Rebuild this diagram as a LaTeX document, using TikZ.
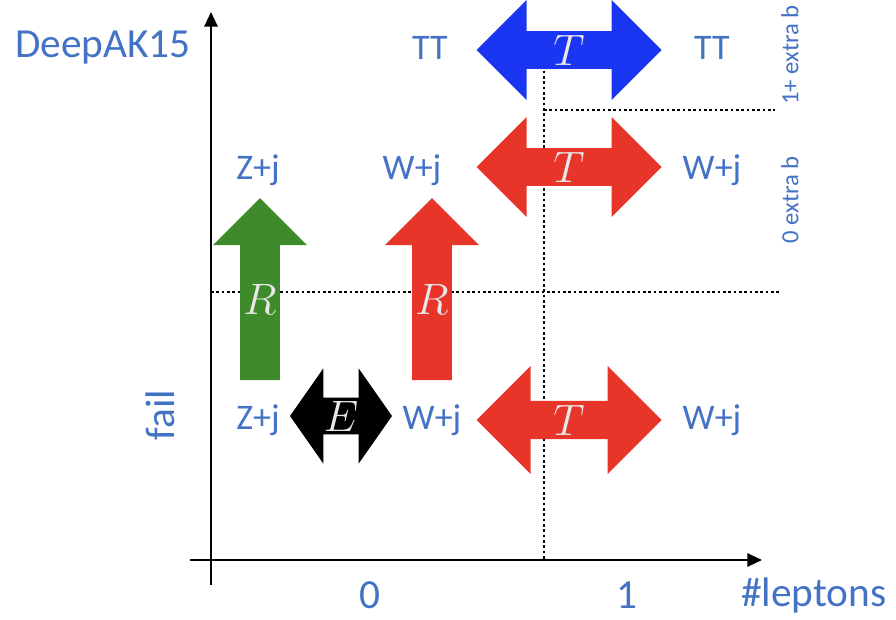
\documentclass[tikz,border=0pt]{standalone}
\usepackage{fix-cm}
\usepackage{fontspec}
\setmainfont{Carlito}
\usetikzlibrary{positioning, shapes.arrows, arrows.meta}
\definecolor{lblBlue}{HTML}{4472C4}
\definecolor{arrBlue}{HTML}{1B36F2}
\definecolor{arrRed}{HTML}{E8352A}
\definecolor{arrGreen}{HTML}{3F8A2A}
\definecolor{arrText}{HTML}{E8E8E8}

\begin{document}
\begin{tikzpicture}[x=0.75pt,y=-0.75pt,
  lbl/.style={text=lblBlue, font=\fontsize{27}{30}\selectfont},
  axlbl/.style={text=lblBlue, font=\fontsize{31}{34}\selectfont},
  sidelbl/.style={text=lblBlue, font=\fontsize{18.5}{20}\selectfont, rotate=90},
  axis/.style={line width=1.6pt, -{Triangle[length=11pt,width=10pt]}},
  grid/.style={dash pattern=on 2pt off 2pt, line width=2pt},
  transfer/.style={double arrow, double arrow head extend=25*0.75pt,
    minimum height=185*0.75pt, minimum width=100*0.75pt, inner sep=0pt,
    text=arrText, font=\fontsize{33}{36}\selectfont},
  ratio/.style={single arrow, shape border rotate=90, single arrow head extend=23*0.75pt,
    minimum height=182*0.75pt, minimum width=94*0.75pt, inner sep=0pt,
    text=arrText, font=\fontsize{33}{36}\selectfont}]
\useasboundingbox (0,0) rectangle (896,620);

% axes
\coordinate (ystart) at (211,585);
\coordinate (yend) at (211,12);
\coordinate (xstart) at (190,560);
\coordinate (xend) at (762,560);
\draw[axis] (ystart) -- (yend);
\draw[axis] (xstart) -- (xend);

% region boundaries
\coordinate (vtop) at (544,60);
\coordinate (vbot) at (544,560);
\coordinate (hmidL) at (211,292);
\coordinate (hmidR) at (780,292);
\coordinate (htopL) at (544,110);
\coordinate (htopR) at (775,110);
\draw[grid] (vtop) -- (vbot);
\draw[grid] (hmidL) -- (hmidR);
\draw[grid] (htopL) -- (htopR);

% transfer factors
\node[transfer, fill=arrBlue] (ttArrow) at (569,50) {$T$};
\node[transfer, fill=arrRed] (wjPassArrow) at (569,167) {$T$};
\node[transfer, fill=arrRed, minimum width=108*0.75pt, double arrow head extend=28*0.75pt] (wjFailArrow) at (569,420) {$T$};
\node[transfer, fill=black, minimum height=102*0.75pt, minimum width=95*0.75pt,
  double arrow head extend=24*0.75pt, double arrow tip angle=110] (eArrow) at (341,416) {$E$};

% pass/fail ratios
\node[ratio, fill=arrGreen] (zjArrow) at (260,299) {$R$};
\node[ratio, fill=arrRed] (wjArrow) at (432,299) {$R$};

% process labels
\node[lbl] (ttLeft) at (430,48) {TT};
\node[lbl] (ttRight) at (712,48) {TT};
\node[lbl] (zjPass) at (258,170) {Z+j};
\node[lbl] (wjPassLeft) at (412,170) {W+j};
\node[lbl] (wjPassRight) at (712,170) {W+j};
\node[lbl] (zjFail) at (258,420) {Z+j};
\node[lbl] (wjFailLeft) at (432,420) {W+j};
\node[lbl] (wjFailRight) at (712,420) {W+j};

% axis labels
\node[axlbl] (tagger) at (103,48) {DeepAK15};
\node[axlbl, rotate=90] (fail) at (160,415) {fail};
\node[axlbl] (nlep0) at (370,595) {0};
\node[axlbl] (nlep1) at (627,595) {1};
\node[axlbl] (nlep) at (814,595) {\#leptons};
\node[sidelbl] (extraB1) at (790,55) {1+ extra b};
\node[sidelbl] (extraB0) at (790,200) {0 extra b};
\end{tikzpicture}
\end{document}
